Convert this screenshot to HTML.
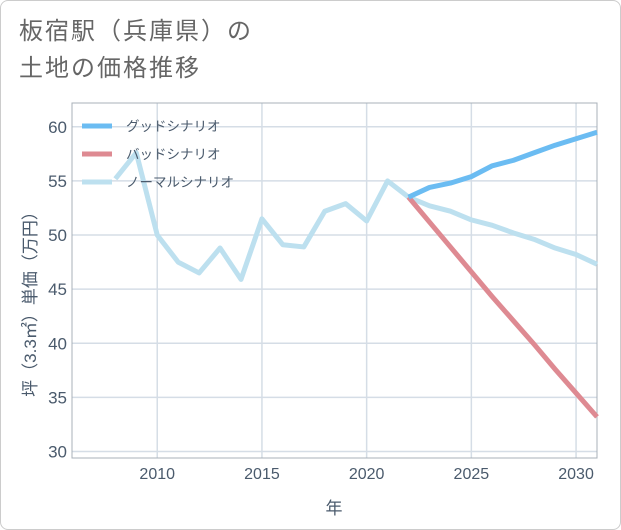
<!DOCTYPE html>
<html><head><meta charset="utf-8"><style>
body{margin:0;background:#fff;font-family:"Liberation Sans","Noto Sans CJK JP",sans-serif;}
#wrap{position:relative;width:619px;height:528px;border:1px solid #ccc;border-radius:8px;overflow:hidden;background:#fff}
.t{position:absolute;left:18px;font-size:24px;letter-spacing:2px;color:#666;line-height:1;}
</style></head><body>
<div id="wrap">
<div class="t" style="top:19px">板宿駅（兵庫県）の</div>
<div class="t" style="top:56px">土地の価格推移</div>
<svg id="c" width="621" height="530" style="position:absolute;left:-1px;top:-1px"></svg>
</div>
<script>
const normalYears=[2008,2009,2010,2011,2012,2013,2014,2015,2016,2017,2018,2019,2020,2021,2022,2023,2024,2025,2026,2027,2028,2029,2030,2031];
const normalVals=[55.2,57.6,50.0,47.5,46.5,48.8,45.9,51.5,49.1,48.9,52.2,52.9,51.3,55.0,53.5,52.7,52.2,51.4,50.9,50.2,49.6,48.8,48.2,47.3];
const futureYears=[2022,2023,2024,2025,2026,2027,2028,2029,2030,2031];
const goodVals=[53.5,54.4,54.8,55.4,56.4,56.9,57.6,58.3,58.9,59.5];
const badVals=[53.5,51.2,48.9,46.6,44.3,42.1,39.9,37.6,35.4,33.2];
const xTicks=[2010,2015,2020,2025,2030];
const yTicks=[30,35,40,45,50,55,60];
const L=72,R=597,T=103,B=458,X0=2005.93,X1=2031,Y0=29.4,Y1=62.2;
const xs=v=>L+(v-X0)/(X1-X0)*(R-L), ys=v=>B-(v-Y0)/(Y1-Y0)*(B-T);
const svg=document.getElementById('c'),NS='http://www.w3.org/2000/svg';
function mk(tag,a,p){const e=document.createElementNS(NS,tag);for(const k in a)e.setAttribute(k,a[k]);(p||svg).appendChild(e);return e;}
for(const t of xTicks){const g=mk('line',{x1:xs(t),x2:xs(t),y1:T,y2:B,stroke:'#d5dde6','stroke-width':1.5});


const tx=mk('text',{x:xs(t),y:B+21,'text-anchor':'middle','font-size':16,fill:'#4a5a6c'});tx.textContent=t;

}
for(const t of yTicks){const g=mk('line',{x1:L,x2:R,y1:ys(t),y2:ys(t),stroke:'#d5dde6','stroke-width':1.5});


const tx=mk('text',{x:L-5,y:ys(t)+6,'text-anchor':'end','font-size':17,fill:'#4a5a6c'});tx.textContent=t;

}
const fr=mk('rect',{x:L,y:T,width:R-L,height:B-T,fill:'none',stroke:'#a8b0b8'});


function line(xv,yv,col,w,name){const p=mk('polyline',{points:xv.map((x,i)=>xs(x)+','+ys(yv[i])).join(' '),fill:'none',stroke:col,'stroke-width':w,'stroke-linejoin':'round'});

}
line(normalYears,normalVals,'#bde0ef',5,'normal-scenario-line');
line(futureYears,badVals,'#de8a92',5,'bad-scenario-line');
line(futureYears,goodVals,'#6bbcf2',5,'good-scenario-line');
const leg=[['グッドシナリオ','#6bbcf2'],['バッドシナリオ','#de8a92'],['ノーマルシナリオ','#bde0ef']];
leg.forEach((l,i)=>{const y=126+i*28;
const s=mk('line',{x1:82,x2:112,y1:y,y2:y,stroke:l[1],'stroke-width':5});


const t=mk('text',{x:126,y:y+5,'font-size':13.5,fill:'#4a5a6c'});t.textContent=l[0];

});
const xt=mk('text',{x:334,y:514,'text-anchor':'middle','font-size':17,fill:'#4a5a6c'});xt.textContent='年';


const yt=mk('text',{x:0,y:0,'text-anchor':'middle','font-size':17,fill:'#4a5a6c',transform:'translate(36,300) rotate(-90)'});yt.textContent='坪（3.3㎡）単価（万円）';


</script>
</body></html>
